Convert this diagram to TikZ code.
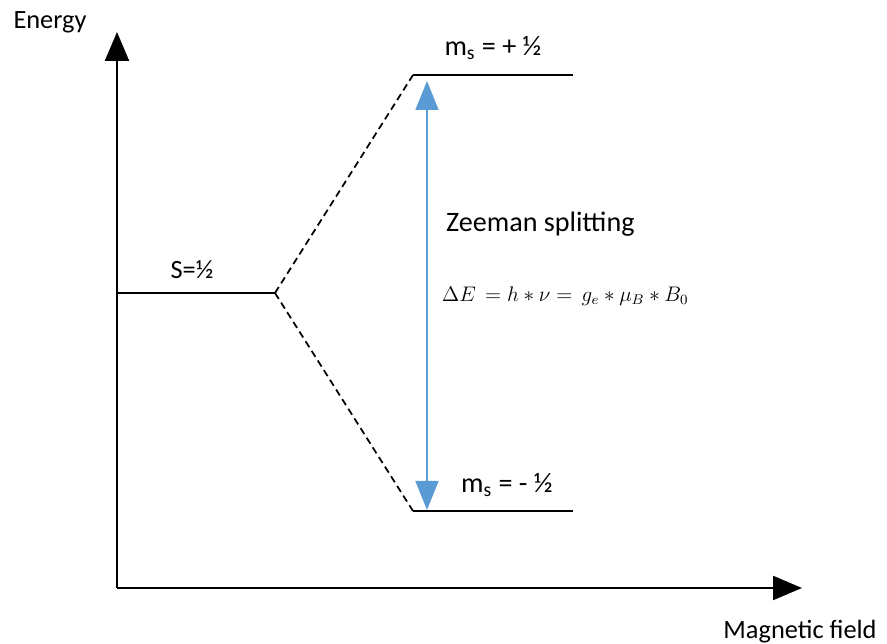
\documentclass[tikz,border=0pt]{standalone}
\usepackage{fontspec}
\setmainfont{Carlito}
\usepackage{xcolor}
\usetikzlibrary{arrows.meta, positioning}

\definecolor{zblue}{RGB}{91,155,213}

\begin{document}
\begin{tikzpicture}[x=0.02cm, y=-0.02cm,
  axis/.style={line width=1.3pt, -{Triangle[length=0.58cm, width=0.48cm]}},
  level/.style={line width=1.3pt},
  split/.style={line width=1pt, dash pattern=on 4pt off 2.5pt},
  lbl/.style={font=\fontsize{15}{17}\selectfont, inner sep=1pt},
  big/.style={font=\fontsize{16}{18}\selectfont, inner sep=1pt},
  gap/.style={draw=zblue, line width=1pt,
              {Triangle[length=0.58cm, width=0.46cm]}-{Triangle[length=0.58cm, width=0.46cm]}},
]
  \useasboundingbox (0,0) rectangle (887,644);

  % axes
  \coordinate (origin) at (117,588);
  \coordinate (ytip)   at (117,32);
  \coordinate (xtip)   at (802,588);
  \draw[axis] (origin) -- (ytip);
  \draw[axis] (origin) -- (xtip);
  \node[lbl] (energy) at (50,22)  {Energy};
  \node[lbl] (field)  at (800,632) {Magnetic field};

  % levels
  \coordinate (s0)   at (117,293);
  \coordinate (s1)   at (275,293);
  \coordinate (up0)  at (413,75);
  \coordinate (up1)  at (573,75);
  \coordinate (dn0)  at (413,511);
  \coordinate (dn1)  at (573,511);
  \draw[level] (s0)  -- (s1);
  \draw[level] (up0) -- (up1);
  \draw[level] (dn0) -- (dn1);
  \draw[split] (s1) -- (up0);
  \draw[split] (s1) -- (dn0);

  \node[lbl] (spin)  at (192,270) {S=½};
  \node[big] (msup)  at (493,48)  {m\textsubscript{s} = + ½};
  \node[big] (msdn)  at (507,485) {m\textsubscript{s} = - ½};

  % splitting
  \coordinate (gtop) at (427,81);
  \coordinate (gbot) at (427,510);
  \draw[gap] (gbot) -- (gtop);
  \node[big, anchor=west] (zee) at (444,224) {Zeeman splitting};
  \node[font=\fontsize{12}{14}\selectfont, anchor=west, inner sep=1pt] (form) at (440,296)
    {$\Delta E\, = h \ast \nu =\, g_e \ast \mu_B \ast B_0$};
\end{tikzpicture}
\end{document}
